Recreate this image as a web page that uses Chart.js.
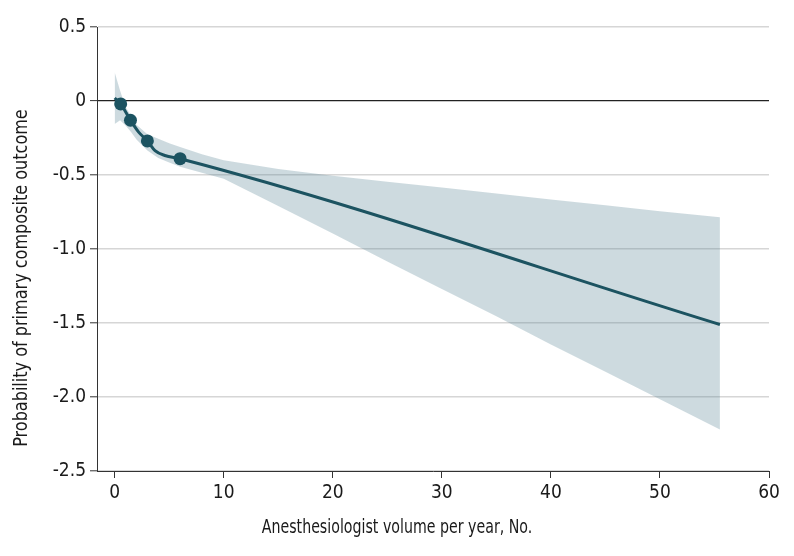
<!DOCTYPE html>
<html>
<head>
<meta charset="utf-8">
<script src="https://cdn.jsdelivr.net/npm/chart.js@4/dist/chart.umd.min.js"></script>
<style>
  html, body { margin: 0; padding: 0; background: #ffffff; }
  #wrap { width: 794px; height: 556px; position: relative; }
</style>
</head>
<body>
<div id="wrap"><canvas id="c" width="794" height="556"></canvas></div>
<script>
// ---- data ----
const lineX = [0, 0.55, 1.45, 2.2, 3.0, 3.7, 4.6, 6.0, 55.5];
const lineY = [0.02, -0.02, -0.13, -0.21, -0.27, -0.335, -0.368, -0.39, -1.51];

const markerX = [0.55, 1.45, 3.0, 6.0];
const markerY = [-0.02, -0.13, -0.27, -0.39];

const bandX     = [0, 0.5, 1.0, 1.5, 2.0, 3.0, 4.0, 5.0, 6.0, 8.0, 10, 15, 20, 25, 30, 35, 40, 45, 50, 55.5];
const bandUpper = [0.195, 0.07, -0.04, -0.10, -0.16, -0.225, -0.255, -0.285, -0.31, -0.36, -0.40, -0.46, -0.505, -0.545, -0.585, -0.625, -0.665, -0.705, -0.745, -0.785];
const bandLower = [-0.155, -0.13, -0.165, -0.21, -0.26, -0.335, -0.385, -0.415, -0.445, -0.485, -0.525, -0.71, -0.895, -1.085, -1.27, -1.455, -1.645, -1.83, -2.015, -2.22];

const xTicks = [0, 10, 20, 30, 40, 50, 60];
const yTicks = [0.5, 0, -0.5, -1.0, -1.5, -2.0, -2.5];
const yTickLabels = ['0.5', '0', '-0.5', '-1.0', '-1.5', '-2.0', '-2.5'];

const xTitle = 'Anesthesiologist volume per year, No.';
const yTitle = 'Probability of primary composite outcome';

// ---- styling ----
const FONT = "'DejaVu Sans Condensed', 'Liberation Sans Narrow', 'Liberation Sans', sans-serif";
const LINE_COLOR = '#1c5361';
const BAND_COLOR = 'rgba(88,132,148,0.30)';
const TEXT_COLOR = '#1a1a1a';

const pts = (xs, ys) => xs.map((x, i) => ({ x: x, y: ys[i] }));

// Axis titles centred on the whole figure, as in the reference
const figureTitles = {
  id: 'figureTitles',
  afterDraw(chart) {
    const ctx = chart.ctx;
    ctx.save();
    ctx.fillStyle = TEXT_COLOR;
    ctx.font = "19px " + FONT;
    ctx.textAlign = 'center';
    ctx.textBaseline = 'middle';
    // x title
    ctx.save();
    ctx.translate(397, 528);
    ctx.scale(0.83, 1);
    ctx.fillText(xTitle, 0, 0);
    ctx.restore();
    // y title
    ctx.save();
    ctx.translate(22, 278);
    ctx.rotate(-Math.PI / 2);
    ctx.scale(0.94, 1);
    ctx.fillText(yTitle, 0, 0);
    ctx.restore();
    ctx.restore();
  }
};

new Chart(document.getElementById('c'), {
  type: 'line',
  data: {
    datasets: [
      {
        label: 'markers',
        data: pts(markerX, markerY),
        showLine: false,
        pointRadius: 6.5,
        pointHoverRadius: 6.5,
        pointBackgroundColor: LINE_COLOR,
        pointBorderColor: LINE_COLOR,
        pointBorderWidth: 0
      },
      {
        label: 'estimate',
        data: pts(lineX, lineY),
        borderColor: LINE_COLOR,
        borderWidth: 3,
        pointRadius: 0,
        fill: false,
        cubicInterpolationMode: 'monotone'
      },
      {
        label: 'upper',
        data: pts(bandX, bandUpper),
        borderWidth: 0,
        borderColor: 'rgba(0,0,0,0)',
        pointRadius: 0,
        backgroundColor: BAND_COLOR,
        fill: '+1',
        tension: 0
      },
      {
        label: 'lower',
        data: pts(bandX, bandLower),
        borderWidth: 0,
        borderColor: 'rgba(0,0,0,0)',
        pointRadius: 0,
        fill: false,
        tension: 0
      }
    ]
  },
  options: {
    responsive: false,
    animation: false,
    events: [],
    layout: { padding: { top: 27, right: 25, left: 0, bottom: 0 } },
    plugins: {
      legend: { display: false },
      tooltip: { enabled: false }
    },
    scales: {
      x: {
        type: 'linear',
        min: -1.62,
        max: 60,
        afterBuildTicks: (axis) => { axis.ticks = xTicks.map(v => ({ value: v })); },
        afterFit: (axis) => { axis.height = 85; },
        grid: {
          drawOnChartArea: false,
          drawTicks: true,
          tickLength: 7,
          tickColor: '#333333',
          tickWidth: 1
        },
        border: { display: true, color: '#333333', width: 1 },
        ticks: {
          color: TEXT_COLOR,
          font: { family: FONT, size: 19 },
          padding: 4,
          maxRotation: 0,
          callback: (v) => String(v)
        },
        title: { display: false }
      },
      y: {
        type: 'linear',
        min: -2.5,
        max: 0.5,
        afterBuildTicks: (axis) => { axis.ticks = yTicks.map(v => ({ value: v })); },
        afterFit: (axis) => { axis.width = 97; },
        grid: {
          drawOnChartArea: true,
          drawTicks: true,
          tickLength: 7,
          color: (ctx) => (ctx.tick && ctx.tick.value === 0) ? '#222222' : '#d6d6d6',
          lineWidth: (ctx) => (ctx.tick && ctx.tick.value === 0) ? 1.2 : 1.6,
          tickColor: '#333333',
          tickWidth: 1
        },
        border: { display: true, color: '#333333', width: 1 },
        ticks: {
          color: TEXT_COLOR,
          font: { family: FONT, size: 19 },
          padding: 4,
          callback: (v) => {
            const i = yTicks.indexOf(v);
            return i >= 0 ? yTickLabels[i] : '';
          }
        },
        title: { display: false }
      }
    }
  },
  plugins: [figureTitles]
});
</script>
</body>
</html>
